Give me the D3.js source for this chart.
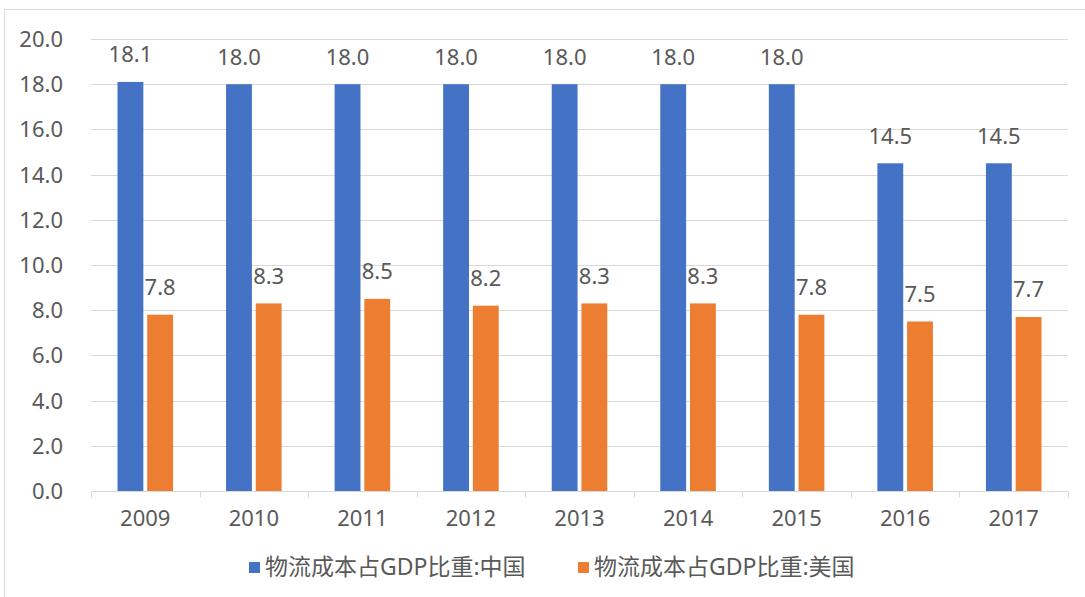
<!DOCTYPE html>
<html>
<head>
  <meta charset="utf-8">
  <title>物流成本占GDP比重</title>
  <script src="https://d3js.org/d3.v7.min.js"></script>
  <style>
    body { margin: 0; background: #fff; }
    text { font-family: "Noto Sans", "Noto Sans CJK SC", sans-serif; fill: #595959; }
  </style>
</head>
<body>
  <svg id="chart"></svg>
  <script>
    // data
    const years = ["2009", "2010", "2011", "2012", "2013", "2014", "2015", "2016", "2017"];
    const china = [18.1, 18.0, 18.0, 18.0, 18.0, 18.0, 18.0, 14.5, 14.5];
    const usa = [7.8, 8.3, 8.5, 8.2, 8.3, 8.3, 7.8, 7.5, 7.7];
    const seriesNames = ["物流成本占GDP比重:中国", "物流成本占GDP比重:美国"];
    const colors = ["#4472c4", "#ed7d31"];
    const yTicks = [0, 2, 4, 6, 8, 10, 12, 14, 16, 18, 20];

    const W = 1085, H = 597;
    // plot area edges
    const plot = {left: 91, right: 1068, top: 39, bottom: 491};

    const svg = d3.select("#chart").attr("width", W).attr("height", H);

    // outer chart border (right and bottom edges run off the page)
    svg.append("rect")
      .attr("x", 4.5).attr("y", 9.5)
      .attr("width", 1100).attr("height", 600)
      .attr("fill", "none").attr("stroke", "#d9d9d9");

    const x = d3.scaleBand().domain(years).range([plot.left, plot.right]);
    const x1 = d3.scaleBand().domain([0, 1])
      .range([26.5, x.bandwidth() - 26.5]).paddingInner(0.13);
    const y = d3.scaleLinear().domain([0, 20]).range([plot.bottom, plot.top]);

    // gridlines
    svg.append("g").selectAll("line")
      .data(yTicks.filter(d => d > 0))
      .join("line")
        .attr("x1", plot.left).attr("x2", plot.right)
        .attr("y1", d => Math.round(y(d)) + 0.5).attr("y2", d => Math.round(y(d)) + 0.5)
        .attr("stroke", "#d9d9d9");

    // y axis labels
    svg.append("g").selectAll("text")
      .data(yTicks)
      .join("text")
        .attr("x", 63).attr("y", d => y(d))
        .attr("dy", "0.36em")
        .attr("text-anchor", "end")
        .style("font-size", "22px")
        .text(d => d.toFixed(1));

    // x axis
    const xAxis = svg.append("g")
      .attr("transform", "translate(0," + (plot.bottom + 0.5) + ")");
    xAxis.append("line")
      .attr("x1", plot.left).attr("x2", plot.right)
      .attr("stroke", "#d9d9d9");
    xAxis.selectAll(".tk")
      .data(years.map(d => x(d)).concat([plot.right]))
      .join("line")
        .attr("class", "tk")
        .attr("x1", d => Math.round(d) + 0.5).attr("x2", d => Math.round(d) + 0.5)
        .attr("y1", 0).attr("y2", 6)
        .attr("stroke", "#d9d9d9");
    xAxis.selectAll("text")
      .data(years)
      .join("text")
        .attr("x", d => x(d) + x.bandwidth() / 2)
        .attr("y", 34)
        .attr("text-anchor", "middle")
        .style("font-size", "22px")
        .text(d => d);

    // bars
    const series = [china, usa];
    series.forEach((vals, si) => {
      const g = svg.append("g");
      g.selectAll("rect")
        .data(vals)
        .join("rect")
          .attr("x", (d, i) => x(years[i]) + x1(si))
          .attr("y", d => y(d))
          .attr("width", x1.bandwidth())
          .attr("height", d => y(0) - y(d))
          .attr("fill", colors[si]);
      g.selectAll("text")
        .data(vals)
        .join("text")
          .attr("x", (d, i) => x(years[i]) + x1(si) + x1.bandwidth() / 2)
          .attr("y", d => y(d) - 19.5)
          .attr("text-anchor", "middle")
          .style("font-size", "22px")
          .text(d => d.toFixed(1));
    });

    // legend
    const legendX = [249, 578];
    const legend = svg.append("g");
    seriesNames.forEach((name, i) => {
      legend.append("rect")
        .attr("x", legendX[i]).attr("y", 562)
        .attr("width", 11).attr("height", 11)
        .attr("fill", colors[i]);
      legend.append("text")
        .attr("x", legendX[i] + 16).attr("y", 567)
        .attr("dy", "0.36em")
        .style("font-size", "23px")
        .text(name);
    });
  </script>
</body>
</html>
